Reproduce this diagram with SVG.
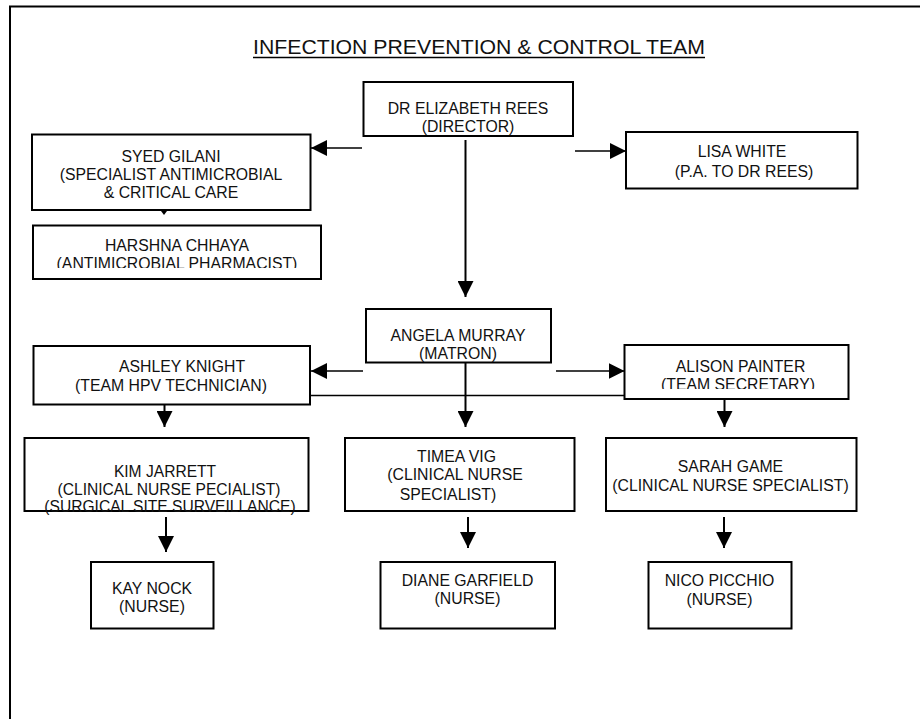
<svg xmlns="http://www.w3.org/2000/svg" width="920" height="719" viewBox="0 0 920 719">
<style>
  .box { fill: #fff; stroke: #000; stroke-width: 2; }
  .t { font-family: "Liberation Sans", Arial, sans-serif; font-size: 15.8px; fill: #111; text-anchor: middle; }
  .ts { font-size: 15.6px; }
  .ln { stroke: #000; stroke-width: 1.3; fill: none; }
  .lnb { stroke: #000; stroke-width: 2; fill: none; }
  .title { font-family: "Liberation Sans", Arial, sans-serif; font-size: 21px; fill: #111; }
</style>
<defs>
  <marker id="ah" markerUnits="userSpaceOnUse" markerWidth="16" markerHeight="16" refX="16" refY="8" orient="auto">
    <path d="M0,0 L16,8 L0,16 z" fill="#000"/>
  </marker>
  <clipPath id="clipHarshna"><rect x="33" y="226" width="287" height="42"/></clipPath>
  <clipPath id="clipAlison"><rect x="625" y="346" width="223" height="43"/></clipPath>
</defs>
<rect x="0" y="0" width="920" height="719" fill="#fff"/>
<path d="M10,719 V6.5 H920" stroke="#000" stroke-width="2" fill="none"/>

<g id="title">
  <text class="title" x="253" y="53.5" textLength="452" lengthAdjust="spacingAndGlyphs">INFECTION PREVENTION &amp; CONTROL TEAM</text>
  <line x1="253" y1="57.5" x2="705" y2="57.5" stroke="#000" stroke-width="1.5"/>
</g>

<g id="connectors">
  <line class="ln" x1="362" y1="148" x2="311" y2="148" marker-end="url(#ah)"/>
  <line class="ln" x1="575" y1="151" x2="626" y2="151" marker-end="url(#ah)"/>
  <line class="lnb" x1="465.5" y1="140" x2="465.5" y2="297" marker-end="url(#ah)"/>
  <path d="M161,211 L167,211 L164,215 z" fill="#000"/>
  <line class="ln" x1="363" y1="371" x2="311" y2="371" marker-end="url(#ah)"/>
  <line class="ln" x1="556" y1="371" x2="624.5" y2="371" marker-end="url(#ah)"/>
  <line class="ln" x1="310" y1="395.5" x2="625" y2="395.5"/>
  <line class="lnb" x1="164.5" y1="404" x2="164.5" y2="427" marker-end="url(#ah)"/>
  <line class="lnb" x1="465.5" y1="363" x2="465.5" y2="427" marker-end="url(#ah)"/>
  <line class="lnb" x1="724.5" y1="399" x2="724.5" y2="427" marker-end="url(#ah)"/>
  <line class="lnb" x1="166" y1="517" x2="166" y2="552" marker-end="url(#ah)"/>
  <line class="lnb" x1="468" y1="517" x2="468" y2="548" marker-end="url(#ah)"/>
  <line class="lnb" x1="724" y1="517" x2="724" y2="548" marker-end="url(#ah)"/>
</g>

<g id="director">
  <rect class="box" x="363.5" y="82" width="209.5" height="54"/>
  <text class="t" x="468" y="113.5">DR ELIZABETH REES</text>
  <text class="t" x="468" y="132">(DIRECTOR)</text>
</g>

<g id="syed">
  <rect class="box" x="32" y="134.5" width="278.5" height="75.5"/>
  <text class="t" x="171" y="161.5">SYED GILANI</text>
  <text class="t" x="171" y="179.5">(SPECIALIST ANTIMICROBIAL</text>
  <text class="t" x="171" y="197.5">&amp; CRITICAL CARE</text>
</g>

<g id="harshna">
  <rect class="box" x="33" y="225.5" width="288" height="53.5"/>
  <g clip-path="url(#clipHarshna)">
    <text class="t" x="177" y="250.5">HARSHNA CHHAYA</text>
    <text class="t" x="177" y="269">(ANTIMICROBIAL PHARMACIST)</text>
  </g>
</g>

<g id="lisa">
  <rect class="box" x="626" y="132" width="231.5" height="56.5"/>
  <text class="t" x="742" y="157">LISA WHITE</text>
  <text class="t" x="744" y="177">(P.A. TO DR REES)</text>
</g>

<g id="angela">
  <rect class="box" x="366" y="309" width="185" height="53.5"/>
  <text class="t" x="458" y="341">ANGELA MURRAY</text>
  <text class="t" x="458" y="358.8">(MATRON)</text>
</g>

<g id="ashley">
  <rect class="box" x="33.5" y="346" width="276.5" height="58.5"/>
  <text class="t" x="182" y="372">ASHLEY KNIGHT</text>
  <text class="t" x="171" y="390.5">(TEAM HPV TECHNICIAN)</text>
</g>

<g id="alison">
  <rect class="box" x="624.5" y="345" width="224" height="54"/>
  <g clip-path="url(#clipAlison)">
    <text class="t" x="740.5" y="371.5">ALISON PAINTER</text>
    <text class="t" x="738" y="390">(TEAM SECRETARY)</text>
  </g>
</g>

<g id="kim">
  <rect class="box" x="24.5" y="438" width="284" height="73"/>
  <text class="t ts" x="165" y="477">KIM JARRETT</text>
  <text class="t ts" x="169" y="494.5">(CLINICAL NURSE PECIALIST)</text>
  <text class="t ts" x="170" y="512">(SURGICAL SITE SURVEILLANCE)</text>
</g>

<g id="timea">
  <rect class="box" x="345" y="438" width="229.5" height="73"/>
  <text class="t" x="456.5" y="462.2">TIMEA VIG</text>
  <text class="t" x="455" y="479.8">(CLINICAL NURSE</text>
  <text class="t" x="448" y="499.5">SPECIALIST)</text>
</g>

<g id="sarah">
  <rect class="box" x="606" y="438" width="250.5" height="73"/>
  <text class="t" x="730.5" y="471.5">SARAH GAME</text>
  <text class="t" x="730.5" y="490.5">(CLINICAL NURSE SPECIALIST)</text>
</g>

<g id="kay">
  <rect class="box" x="91" y="562" width="122.5" height="66.5"/>
  <text class="t" x="152" y="593.8">KAY NOCK</text>
  <text class="t" x="152" y="612.2">(NURSE)</text>
</g>

<g id="diane">
  <rect class="box" x="380.5" y="562" width="174.5" height="66.5"/>
  <text class="t" x="467.5" y="585.5">DIANE GARFIELD</text>
  <text class="t" x="467.5" y="603.8">(NURSE)</text>
</g>

<g id="nico">
  <rect class="box" x="648.5" y="562" width="143" height="66.5"/>
  <text class="t" x="719.5" y="585.5">NICO PICCHIO</text>
  <text class="t" x="719.5" y="604.5">(NURSE)</text>
</g>
</svg>
